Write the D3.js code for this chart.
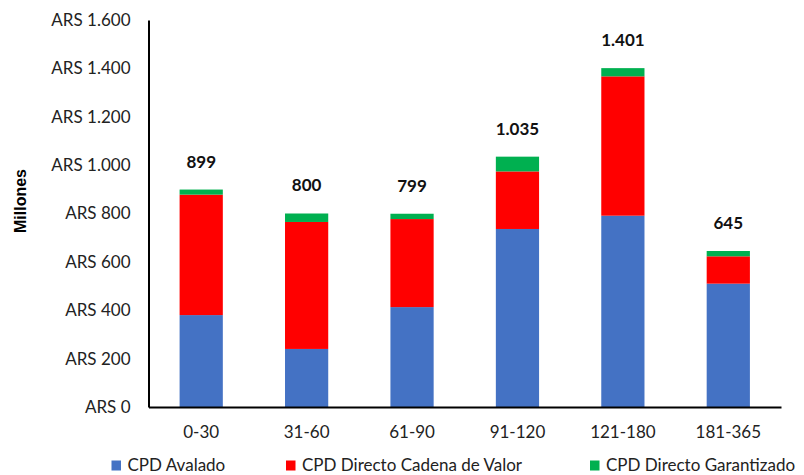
<!DOCTYPE html>
<html><head><meta charset="utf-8">
<script src="https://cdn.jsdelivr.net/npm/d3@7"></script>
<style>body{margin:0;background:#fff}svg{display:block}</style>
</head><body><svg id="c" width="804" height="475"></svg>
<script>
const categories = ["0-30","31-60","61-90","91-120","121-180","181-365"];
const avalado = [380, 240, 413, 736, 791, 510];
const cadenaValor = [498, 525, 364, 238, 576, 113];
const garantizado = [21, 35, 22, 61, 34, 22];
const totalLabels = ["899","800","799","1.035","1.401","645"];
const seriesNames = ["CPD Avalado","CPD Directo Cadena de Valor","CPD Directo Garantizado"];
const colors = ["#4472C4","#FF0000","#00B050"];
const yTicks = [0,200,400,600,800,1000,1200,1400,1600];
const yTickLabels = ["ARS 0","ARS 200","ARS 400","ARS 600","ARS 800","ARS 1.000","ARS 1.200","ARS 1.400","ARS 1.600"];

const FONT = "Lato, 'Noto Sans', sans-serif";
const svg = d3.select("#c");
const x = d3.scaleBand().domain(categories).range([148.5, 781]).paddingInner(0.59).paddingOuter(0.295);
const y = d3.scaleLinear().domain([0,1600]).range([407, 20]);

const rows = categories.map((c,i)=>({cat:c, s0:avalado[i], s1:cadenaValor[i], s2:garantizado[i]}));
const stack = d3.stack().keys(["s0","s1","s2"])(rows);

svg.append("g").selectAll("g").data(stack).join("g")
  .attr("fill",(d,i)=>colors[i])
  .selectAll("rect").data(d=>d).join("rect")
  .attr("x",d=>x(d.data.cat)).attr("width",x.bandwidth())
  .attr("y",d=>y(d[1])).attr("height",d=>y(d[0])-y(d[1]));

// y axis
const ya = svg.append("g").attr("transform","translate(148.5,0)")
  .call(d3.axisLeft(y).tickValues(yTicks).tickFormat((d,i)=>yTickLabels[i]).tickSize(0).tickPadding(18));
ya.select(".domain").attr("stroke","#000").attr("stroke-width",2);
ya.selectAll("text").attr("font-family",FONT).attr("font-size",17).attr("fill","#222");

// x axis
const xa = svg.append("g").attr("transform","translate(0,407)")
  .call(d3.axisBottom(x).tickSize(0).tickPadding(19));
xa.select(".domain").attr("stroke","#000").attr("stroke-width",2);
xa.selectAll("text").attr("font-family",FONT).attr("font-size",17).attr("fill","#222");

// totals
svg.append("g").selectAll("text").data(rows).join("text")
  .attr("x",d=>x(d.cat)+x.bandwidth()/2)
  .attr("y",(d,i)=>y(avalado[i]+cadenaValor[i]+garantizado[i])-28)
  .attr("dy","0.35em").attr("text-anchor","middle")
  .attr("font-family",FONT).attr("font-size",17).attr("font-weight","bold").attr("fill","#111")
  .text((d,i)=>totalLabels[i]);

// y title
svg.append("text").attr("transform","translate(20,201) rotate(-90)")
  .attr("text-anchor","middle").attr("dy","0.35em")
  .attr("font-family","'Liberation Sans', Arial, sans-serif").attr("font-size",16).attr("font-weight","bold")
  .text("Millones");

// legend
const legX = [111.5, 286, 590];
const lg = svg.append("g").selectAll("g").data(seriesNames).join("g")
  .attr("transform",(d,i)=>`translate(${legX[i]},465)`);
lg.append("rect").attr("x",0).attr("y",-4.5).attr("width",9.5).attr("height",10).attr("fill",(d,i)=>colors[i]);
lg.append("text").attr("x",16).attr("dy","0.35em").attr("font-family",FONT).attr("font-size",17).attr("fill","#222").text(d=>d);
</script></body></html>
